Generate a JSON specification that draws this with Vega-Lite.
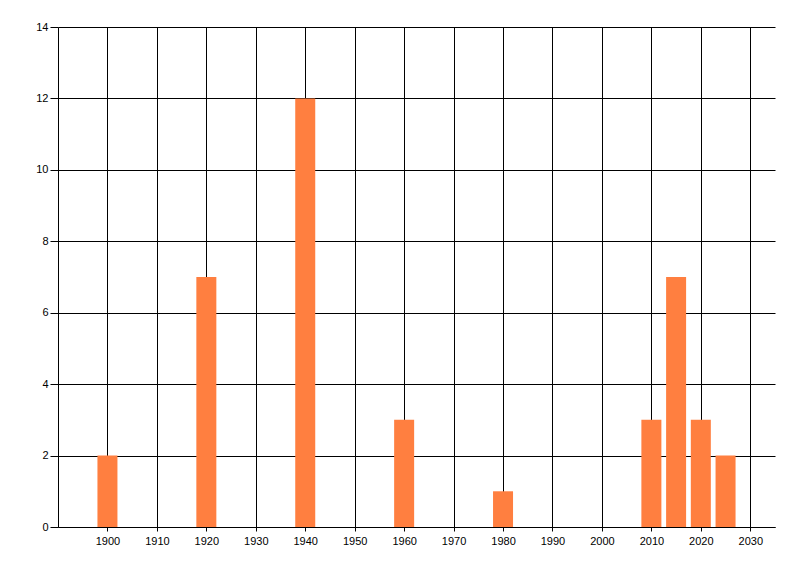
{
  "$schema": "https://vega.github.io/schema/vega-lite/v6.json",
  "autosize": {"type": "none"},
  "width": 717,
  "height": 500,
  "padding": {"left": 58, "top": 27, "right": 25, "bottom": 49},
  "background": "white",
  "config": {
    "view": {"stroke": null},
    "axis": {
      "labelFont": "Liberation Sans",
      "labelFontSize": 11,
      "labelColor": "black",
      "domainColor": "black",
      "gridColor": "black",
      "gridOpacity": 1,
      "gridWidth": 1,
      "tickColor": "black",
      "domainWidth": 1
    }
  },
  "data": {
    "values": [
      {"year": 1900, "count": 2},
      {"year": 1920, "count": 7},
      {"year": 1940, "count": 12},
      {"year": 1960, "count": 3},
      {"year": 1980, "count": 1},
      {"year": 2010, "count": 3},
      {"year": 2015, "count": 7},
      {"year": 2020, "count": 3},
      {"year": 2025, "count": 2}
    ]
  },
  "mark": {"type": "bar", "width": 20, "color": "#FF7F40"},
  "encoding": {
    "x": {
      "field": "year",
      "type": "quantitative",
      "scale": {"domain": [1890, 2035], "nice": false, "zero": false, "padding": 0},
      "axis": {
        "title": null,
        "values": [1900, 1910, 1920, 1930, 1940, 1950, 1960, 1970, 1980, 1990, 2000, 2010, 2020, 2030],
        "format": "d",
        "tickSize": 4,
        "labelPadding": 4,
        "grid": true
      }
    },
    "y": {
      "field": "count",
      "type": "quantitative",
      "scale": {"domain": [0, 14], "nice": false, "padding": 0},
      "axis": {
        "title": null,
        "values": [0, 2, 4, 6, 8, 10, 12, 14],
        "tickSize": 8,
        "labelPadding": 2,
        "grid": true
      }
    }
  }
}
